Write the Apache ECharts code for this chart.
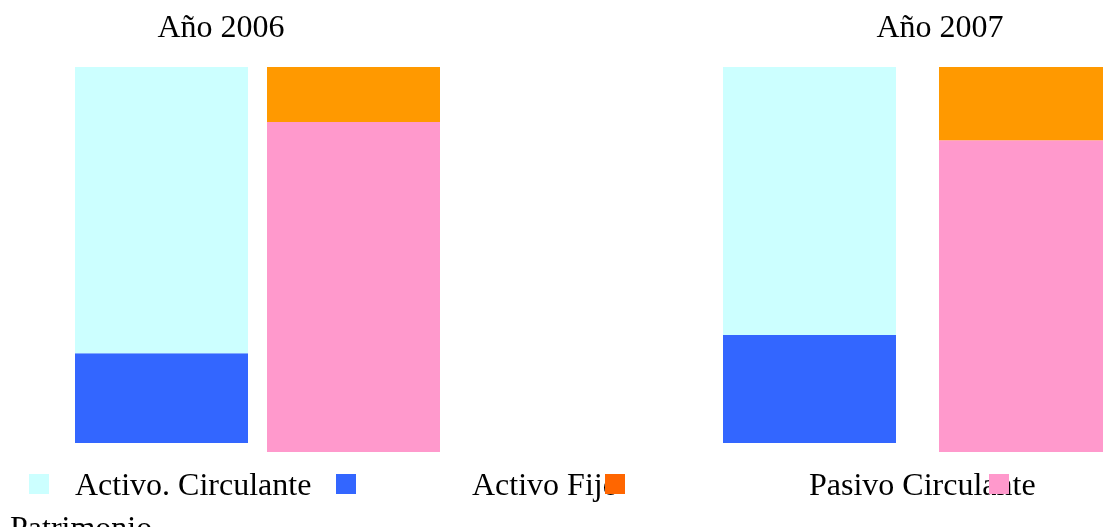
<!DOCTYPE html>
<html>
<head>
<meta charset="utf-8">
<script src="https://cdn.jsdelivr.net/npm/echarts@6/dist/echarts.min.js"></script>
<style>html,body{margin:0;padding:0;background:#fff;}#c{width:1103px;height:527px;}</style>
</head>
<body>
<div id="c"></div>
<script>
// Data (percent of each bar)
const years = ['Año 2006', 'Año 2007'];
const seriesNames = ['Activo. Circulante', 'Activo Fijo', 'Pasivo Circulante', 'Patrimonio'];
const activoCirculante = [76.1, 71.3];
const activoFijo = [23.9, 28.7];
const pasivoCirculante = [14.3, 19.0];
const patrimonio = [85.7, 81.0];

const barColors = ['#CCFFFF', '#3366FF', '#FF9900', '#FF99CC'];
const legendColors = ['#CCFFFF', '#3366FF', '#FF6600', '#FF99CC'];
const FONT = '"Liberation Serif", "Times New Roman", serif';

const chart = echarts.init(document.getElementById('c'), null, {renderer: 'canvas'});

const grids = [
  {left: 75, top: 67, width: 173, height: 376},
  {left: 267, top: 67, width: 173, height: 385},
  {left: 723, top: 67, width: 173, height: 376},
  {left: 939, top: 67, width: 173, height: 385}
];

const xAxes = grids.map((g, i) => ({type: 'category', gridIndex: i, data: [years[Math.floor(i / 2)]], show: false}));
const yAxes = grids.map((g, i) => ({type: 'value', gridIndex: i, min: 0, max: 100, show: false}));

function bar(name, idx, grid, value, stack) {
  return {
    type: 'bar', name: name, xAxisIndex: grid, yAxisIndex: grid, stack: stack,
    data: [value], barWidth: '100%', barCategoryGap: 0,
    itemStyle: {color: barColors[idx]}, silent: true, animation: false
  };
}

const series = [];
for (let y = 0; y < 2; y++) {
  series.push(bar(seriesNames[1], 1, y * 2, activoFijo[y], 'a' + y));
  series.push(bar(seriesNames[0], 0, y * 2, activoCirculante[y], 'a' + y));
  series.push(bar(seriesNames[3], 3, y * 2 + 1, patrimonio[y], 'p' + y));
  series.push(bar(seriesNames[2], 2, y * 2 + 1, pasivoCirculante[y], 'p' + y));
}

const titleStyle = {fontFamily: FONT, fontSize: 32, fontWeight: 'normal', color: '#000'};

const swatchX = [29, 336, 605, 989];
const textPos = [[75, 487], [472, 487], [809, 487], [10, 530]];
const graphics = [];
seriesNames.forEach((n, i) => {
  graphics.push({type: 'rect', shape: {x: swatchX[i], y: 474, width: 20, height: 20}, style: {fill: legendColors[i]}, z: 10});
  graphics.push({type: 'text', x: textPos[i][0], y: textPos[i][1], z: 5,
    style: {text: n, font: '32px ' + FONT, fill: '#000', textAlign: 'left', textVerticalAlign: 'middle', verticalAlign: 'middle'}});
});

chart.setOption({
  animation: false,
  title: [
    {text: years[0], left: 216, top: 8, textAlign: 'center', textStyle: titleStyle},
    {text: years[1], left: 935, top: 8, textAlign: 'center', textStyle: titleStyle}
  ],
  grid: grids,
  xAxis: xAxes,
  yAxis: yAxes,
  series: series,
  graphic: graphics
});
</script>
</body>
</html>
